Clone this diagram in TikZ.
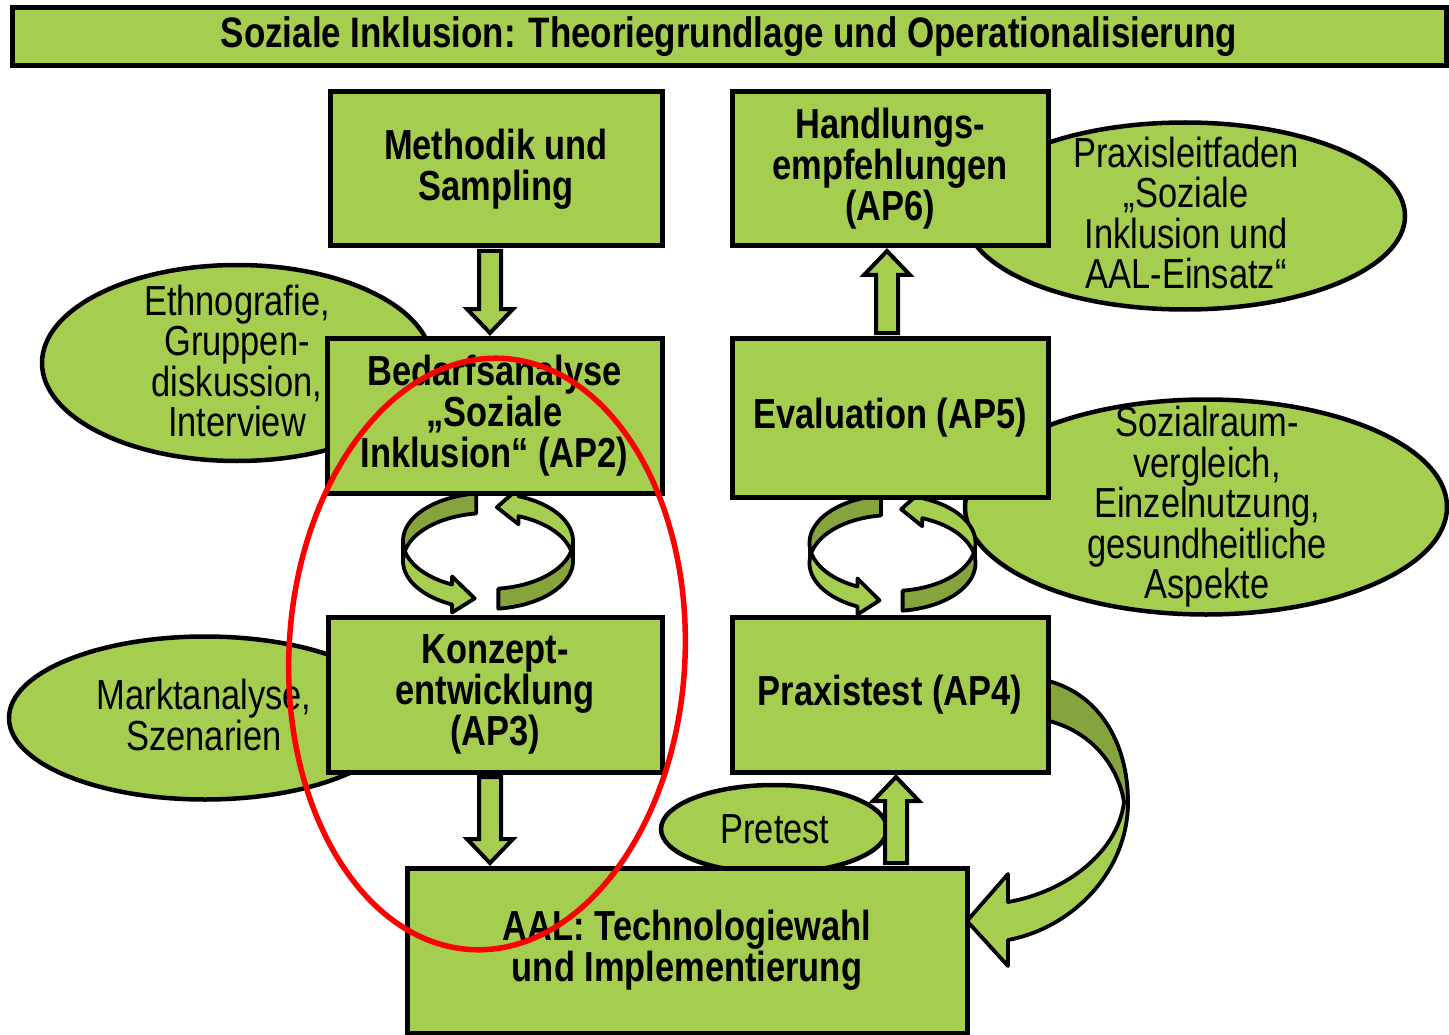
\documentclass[tikz,border=0pt]{standalone}
\usepackage{fontspec}
\setmainfont{Liberation Sans}[FakeStretch=0.82]
\usetikzlibrary{calc,shapes.geometric}
\definecolor{lg}{HTML}{A5CD50}
\definecolor{dg}{HTML}{86A43D}
\pgfdeclarelayer{bg}\pgfdeclarelayer{fg}
\pgfsetlayers{bg,main,fg}

% block arrow downward, x taken from #1, shifted by #3
\newcommand\blkdown[3]{\draw[blk] let \p1=(#1), \p2=(#2) in
  (\x1+#3-11pt,\y1-2.5pt) -- (\x1+#3-11pt,\y2+26.5pt) -- (\x1+#3-23pt,\y2+26.5pt) -- (\x1+#3,\y2+2.5pt)
  -- (\x1+#3+23pt,\y2+26.5pt) -- (\x1+#3+11pt,\y2+26.5pt) -- (\x1+#3+11pt,\y1-2.5pt) -- cycle;}
% block arrow upward, x taken from #2, shifted by #3
\newcommand\blkup[3]{\draw[blk] let \p1=(#1), \p2=(#2) in
  (\x2+#3-11pt,\y1+2.5pt) -- (\x2+#3-11pt,\y2-26.5pt) -- (\x2+#3-23pt,\y2-26.5pt) -- (\x2+#3,\y2-2.5pt)
  -- (\x2+#3+23pt,\y2-26.5pt) -- (\x2+#3+11pt,\y2-26.5pt) -- (\x2+#3+11pt,\y1+2.5pt) -- cycle;}

% pair of ribbon arrows forming a cycle: #1 cx, #2 cy, #3 rx, #4 ry
\newcommand\ringpair[4]{%
  % left arrow (top -> bottom)
  \fill[dg] plot[domain=98:180,samples=40] ({#1+#3*cos(\x)},{#2-#4*sin(\x)})
     -- plot[domain=180:98,samples=40] ({#1+#3*cos(\x)},{#2+20-#4*sin(\x)}) -- cycle;
  \fill[lg] plot[domain=180:245,samples=40] ({#1+#3*cos(\x)},{#2-#4*sin(\x)})
     -- ({#1+#3*cos(245)},{#2-#4*sin(245)-8}) -- ({#1+#3*cos(261)},{#2+10-#4*sin(261)})
     -- ({#1+#3*cos(245)},{#2+20-#4*sin(245)+8})
     -- plot[domain=245:180,samples=40] ({#1+#3*cos(\x)},{#2+20-#4*sin(\x)}) -- cycle;
  \draw[ribline] plot[domain=98:245,samples=60] ({#1+#3*cos(\x)},{#2-#4*sin(\x)})
     -- ({#1+#3*cos(245)},{#2-#4*sin(245)-8}) -- ({#1+#3*cos(261)},{#2+10-#4*sin(261)})
     -- ({#1+#3*cos(245)},{#2+20-#4*sin(245)+8})
     -- plot[domain=245:98,samples=60] ({#1+#3*cos(\x)},{#2+20-#4*sin(\x)}) -- cycle;
  \draw[ribline] ({#1-#3},{#2}) -- ({#1-#3},{#2+20});
  % right arrow (bottom -> top)
  \fill[dg] plot[domain=-83:0,samples=40] ({#1+#3*cos(\x)},{#2-#4*sin(\x)})
     -- plot[domain=0:-83,samples=40] ({#1+#3*cos(\x)},{#2+20-#4*sin(\x)}) -- cycle;
  \fill[lg] plot[domain=0:69,samples=40] ({#1+#3*cos(\x)},{#2-#4*sin(\x)})
     -- ({#1+#3*cos(69)},{#2-#4*sin(69)-8}) -- ({#1+#3*cos(84)},{#2+14-#4*sin(84)})
     -- ({#1+#3*cos(69)},{#2+20-#4*sin(69)+8})
     -- plot[domain=69:0,samples=40] ({#1+#3*cos(\x)},{#2+20-#4*sin(\x)}) -- cycle;
  \draw[ribline] plot[domain=-83:69,samples=60] ({#1+#3*cos(\x)},{#2-#4*sin(\x)})
     -- ({#1+#3*cos(69)},{#2-#4*sin(69)-8}) -- ({#1+#3*cos(84)},{#2+14-#4*sin(84)})
     -- ({#1+#3*cos(69)},{#2+20-#4*sin(69)+8})
     -- plot[domain=69:-83,samples=60] ({#1+#3*cos(\x)},{#2+20-#4*sin(\x)}) -- cycle;
  \draw[ribline] ({#1+#3},{#2}) -- ({#1+#3},{#2+20});
}

\begin{document}
\begin{tikzpicture}[x=1pt,y=-1pt,
  box/.style={draw=black, line width=5pt, fill=lg, rectangle, align=center, inner sep=0pt,
              font=\fontsize{42}{41}\selectfont\bfseries},
  oval/.style={draw=black, line width=4.5pt, fill=lg, ellipse, inner sep=0pt},
  ovtext/.style={align=center, inner sep=0pt, font=\fontsize{42}{40.5}\selectfont},
  blk/.style={draw=black, line width=4pt, fill=lg, line join=miter},
  ribline/.style={draw=black, line width=3.8pt, line join=round}]
\useasboundingbox (0,0) rectangle (1449,1035);

% ---- side ellipses (background)
\begin{pgfonlayer}{bg}
\node[oval, minimum width=390pt, minimum height=196pt] (ethnoE) at (237,363) {};
\node[oval, minimum width=392pt, minimum height=163pt] (marktE) at (205,718) {};
\node[oval, minimum width=440pt, minimum height=187pt] (praxE) at (1185,216) {};
\node[oval, minimum width=482pt, minimum height=215pt] (sozE) at (1206,507) {};
\node[oval, minimum width=226pt, minimum height=88pt] (preE) at (774,829) {};
\node[ovtext] (ethno) at (237,361) {Ethnografie,\\Gruppen-\\diskussion,\\Interview};
\node[ovtext] (markt) at (204,715) {Marktanalyse,\\Szenarien};
\node[ovtext] (praxis) at (1186,213) {Praxisleitfaden\\„Soziale\\Inklusion und\\AAL-Einsatz“};
\node[ovtext] (sozial) at (1207,507) {Sozialraum-\\vergleich,\\Einzelnutzung,\\gesundheitliche\\Aspekte};
\node[ovtext] (pretest) at (775,829) {Pretest};
\end{pgfonlayer}

% ---- boxes
\node[box, minimum width=1434pt, minimum height=58pt, font=\fontsize{42.6}{41}\selectfont\bfseries] (title) at (729,37)
  {Soziale Inklusion: Theoriegrundlage und Operationalisierung};
\node[box, minimum width=332pt, minimum height=154pt] (meth) at (496,169) {Methodik und\\Sampling};
\node[box, minimum width=335pt, minimum height=155pt] (bed) at (494.5,415.5) {Bedarfsanalyse\\„Soziale\\Inklusion“ (AP2)};
\node[box, minimum width=334pt, minimum height=155pt] (konz) at (495,694.5) {Konzept-\\entwicklung\\(AP3)};
\node[box, minimum width=560pt, minimum height=165pt] (aal) at (687,950.5) {AAL: Technologiewahl\\und Implementierung};
\node[box, minimum width=316pt, minimum height=154pt] (hand) at (890,169) {Handlungs-\\empfehlungen\\(AP6)};
\node[box, minimum width=316pt, minimum height=159pt] (eval) at (890,417.5) {Evaluation (AP5)};
\node[box, minimum width=316pt, minimum height=155pt] (prax) at (890,694.5) {Praxistest (AP4)};

% ---- block arrows
\blkdown{meth.south}{bed.north}{-6pt}
\blkdown{konz.south}{aal.north}{-5pt}
\blkup{eval.north}{hand.south}{-3pt}
\blkup{aal.north}{prax.south}{6pt}

% ---- ribbon arrows (background, above ellipses)
\begin{pgfonlayer}{bg}
\ringpair{488}{541}{85}{48}
\ringpair{892.5}{543}{83}{48}
% curved arrow Praxistest -> AAL
\fill[dg] (1040,679) .. controls (1098,690) and (1128,742) .. (1128,802) -- (1124,802)
   .. controls (1118,765) and (1090,728) .. (1040,719) -- cycle;
\draw[ribline] (1040,679) .. controls (1098,690) and (1128,742) .. (1128,802);
\draw[ribline] (1040,719) .. controls (1090,728) and (1118,765) .. (1124,802);
\filldraw[fill=lg, ribline] (1128,802) .. controls (1128,872) and (1072,928) .. (1008,940)
   -- (1008,966) -- (967,921) -- (1008,874) -- (1008,902)
   .. controls (1066,892) and (1118,852) .. (1124,802) -- cycle;
\end{pgfonlayer}

% ---- red highlight
\begin{pgfonlayer}{fg}
\node[draw=red, line width=5.5pt, ellipse, minimum width=396pt, minimum height=592pt,
      rotate=-3, inner sep=0pt] (focus) at (487,654) {};
\end{pgfonlayer}
\end{tikzpicture}
\end{document}
